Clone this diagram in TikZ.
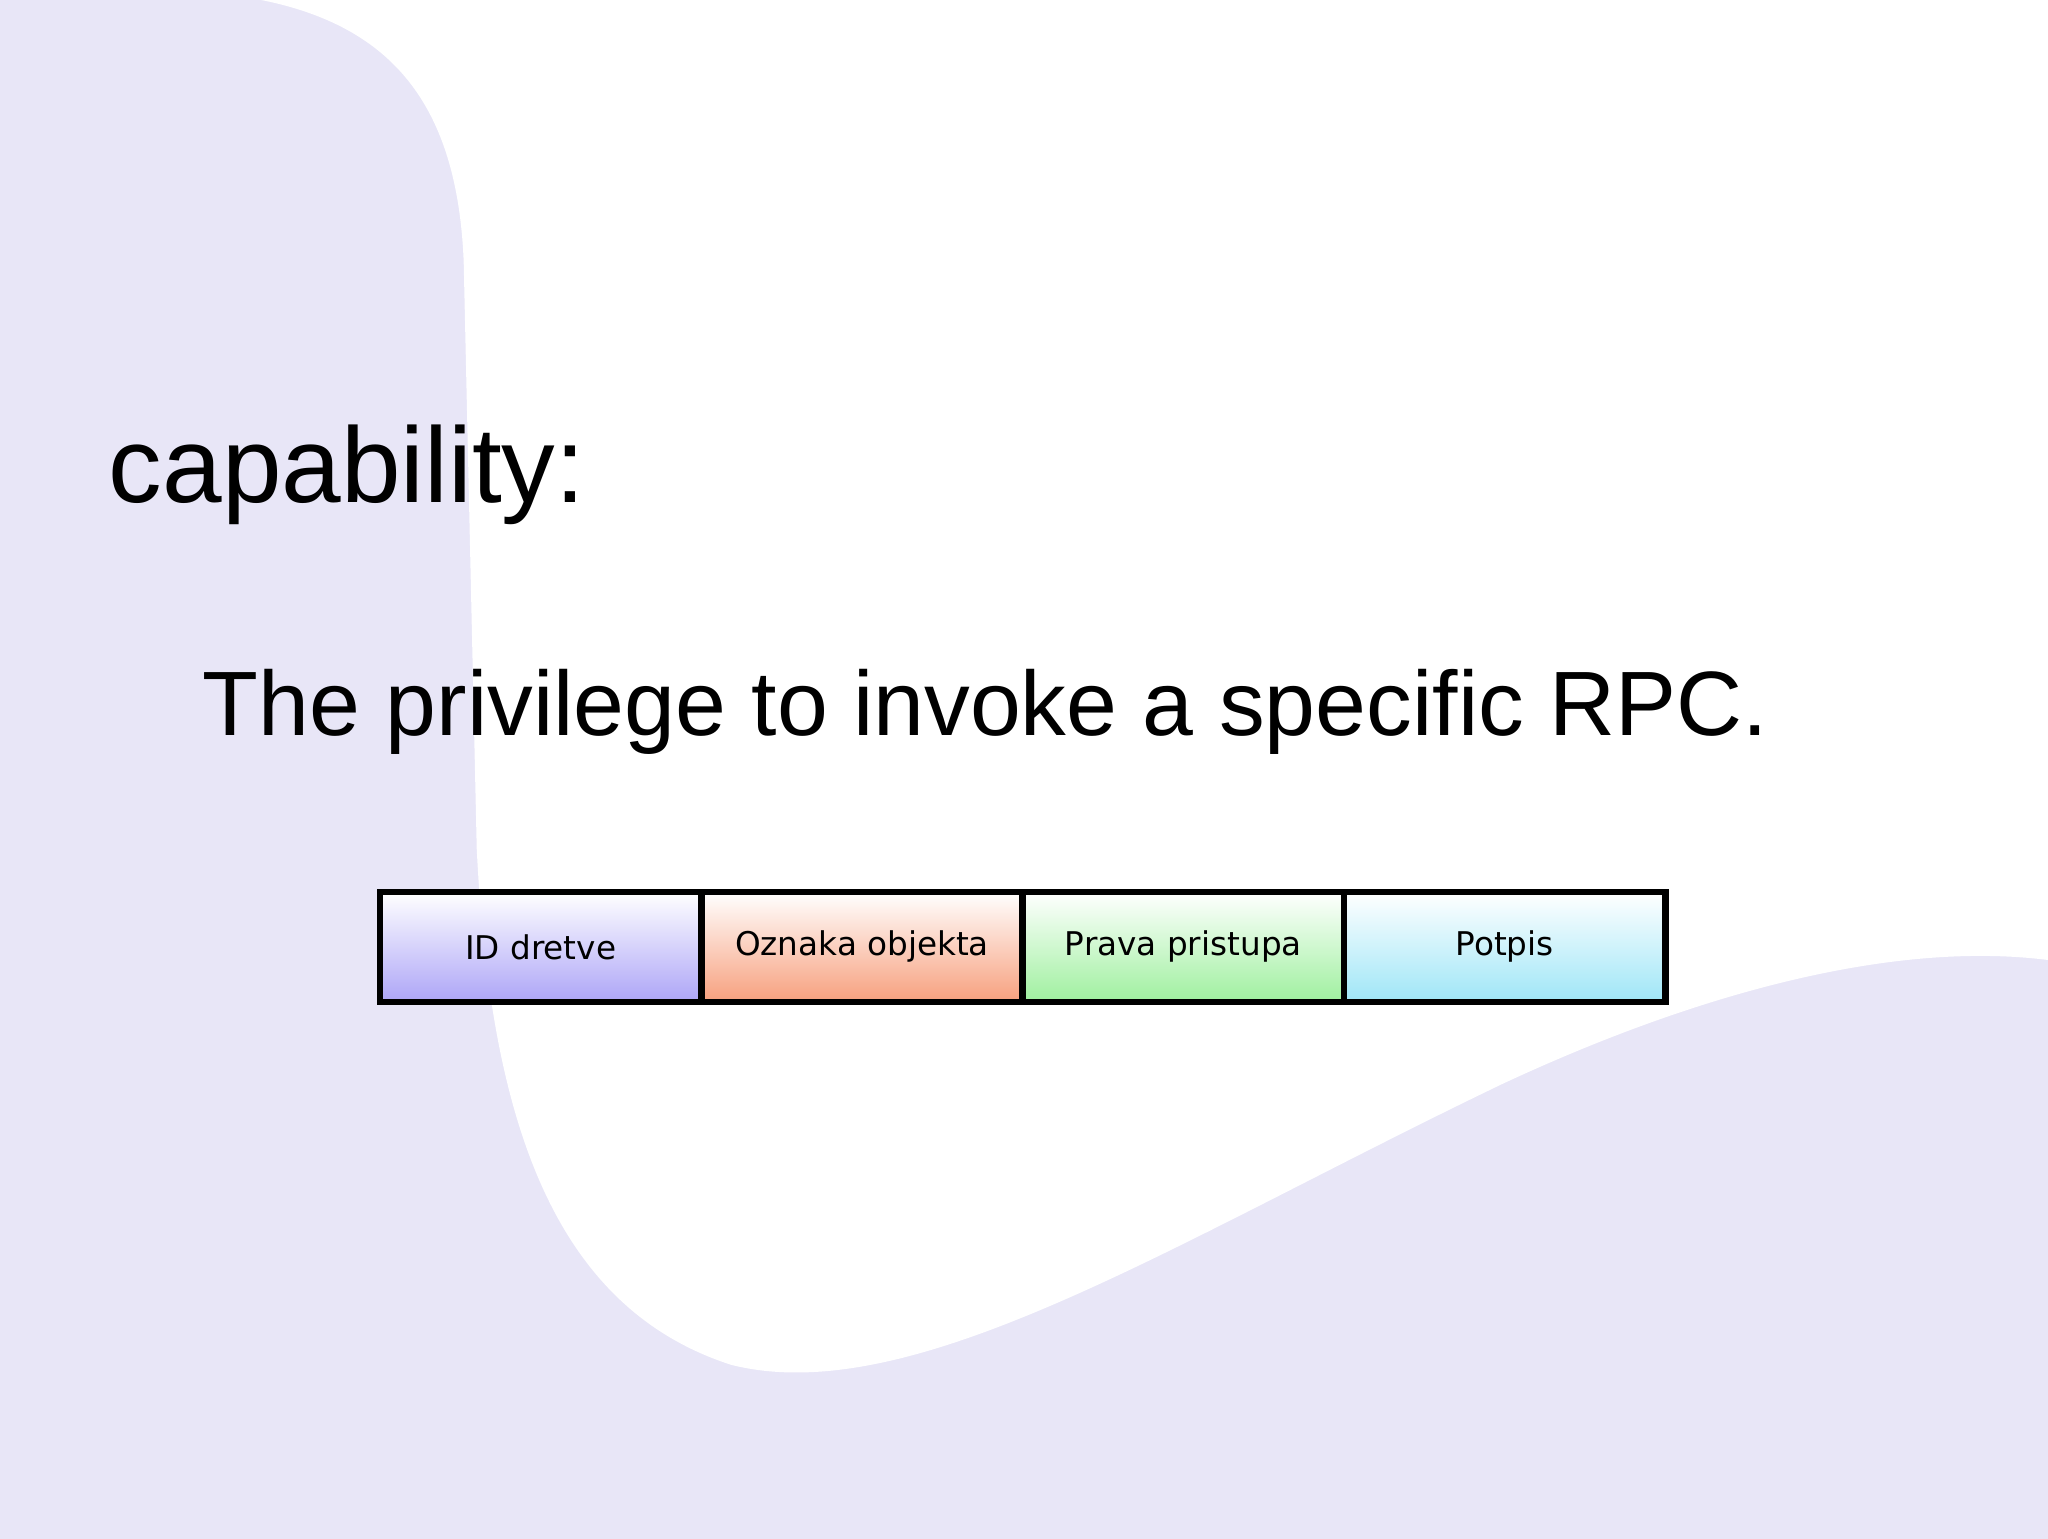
\documentclass[tikz,border=0pt]{standalone}
\usepackage{fontspec}
\setmainfont{Liberation Sans}
\newfontfamily\boxfont{DejaVu Sans}
\definecolor{lav}{HTML}{E8E6F7}
\definecolor{cA}{HTML}{ADA5F7}
\definecolor{cB}{HTML}{F7A07E}
\definecolor{cC}{HTML}{9FF09F}
\definecolor{cD}{HTML}{9FE6F7}
\tikzset{field/.style={draw=black,line width=2.5pt,minimum width=123pt,minimum height=42pt,inner sep=0pt,font=\boxfont\fontsize{12.5}{14}\selectfont}}
\begin{document}
\begin{tikzpicture}[x=0.5pt,y=-0.5pt]
\useasboundingbox (0,0) rectangle (1568,1178);
\fill[lav] (0,0) rectangle (1568,1178);
\fill[white] (200,0) .. controls (300,20) and (350,80) .. (355,200)
 -- (365,650) .. controls (375,850) and (420,1000) .. (560,1045)
 .. controls (700,1080) and (900,950) .. (1150,830)
 .. controls (1300,760) and (1450,720) .. (1568,735)
 -- (1568,0) -- cycle;
\node[anchor=base west,font=\fontsize{41}{48}\selectfont,inner sep=0pt] (t) at (83,385) {capability:};
\node[anchor=base west,font=\fontsize{35}{42}\selectfont,inner sep=0pt] (s) at (155,563) {The privilege to invoke a specific RPC.};
\node[field,top color=white,bottom color=cA] (a) at (414,725) {ID dretve};
\node[field,top color=white,bottom color=cB] (b) at (660,725) {Oznaka objekta};
\node[field,top color=white,bottom color=cC] (c) at (906,725) {Prava pristupa};
\node[field,top color=white,bottom color=cD] (d) at (1152,725) {Potpis};
\end{tikzpicture}
\end{document}
